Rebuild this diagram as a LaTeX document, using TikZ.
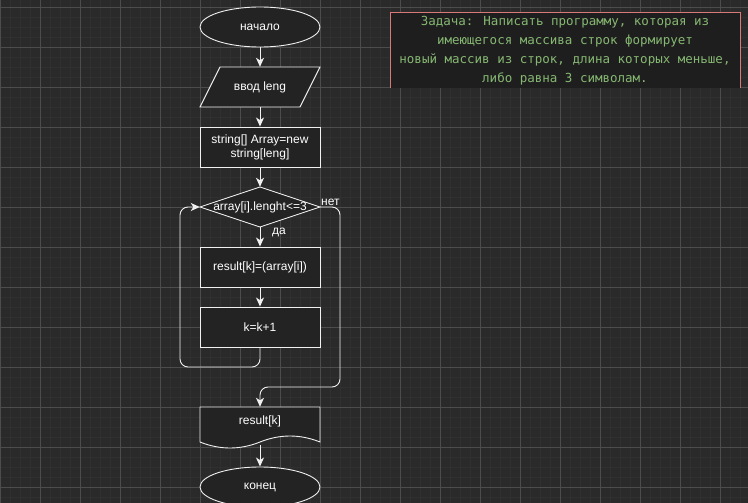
\documentclass[tikz,border=0pt]{standalone}
\usepackage{fontspec}
\setmainfont{Liberation Sans}
\newfontfamily\taskfont{DejaVu Sans Mono}
\usetikzlibrary{shapes.geometric,arrows.meta}
\definecolor{bgc}{HTML}{2A2A2A}
\definecolor{minorc}{HTML}{303030}
\definecolor{majorc}{HTML}{4C4C4C}
\definecolor{shapefill}{HTML}{232323}
\definecolor{linec}{HTML}{F0F0F0}
\definecolor{taskfill}{HTML}{1E1E1E}
\definecolor{taskedge}{HTML}{D87878}
\definecolor{taskText}{HTML}{86B872}
\tikzset{
  flow/.style={draw=linec, line width=0.9pt, fill=shapefill},
  txt/.style={text=white, font=\fontsize{12}{14}\selectfont, align=center, inner sep=0pt},
  arr/.style={draw=linec, line width=0.9pt, -{Stealth[length=9pt,width=8pt,inset=2.5pt]}},
  loopline/.style={arr, rounded corners=8pt},
  lbl/.style={text=white, font=\fontsize{12}{14}\selectfont, inner sep=0pt},
}
\begin{document}
\begin{tikzpicture}[x=1pt,y=-1pt]
\useasboundingbox (0,0) rectangle (748,503);
\clip (0,0) rectangle (748,503);
% background with grid
\fill[bgc] (0,0) rectangle (748,503);
\foreach \i in {0,10,...,750} \draw[minorc, line width=0.5pt] (\i,0) -- (\i,503);
\foreach \j in {-3,7,...,503} \draw[minorc, line width=0.5pt] (0,\j) -- (748,\j);
\foreach \i in {0,40,...,750} \draw[majorc, line width=0.7pt] (\i,0) -- (\i,503);
\foreach \j in {7,47,...,503} \draw[majorc, line width=0.7pt] (0,\j) -- (748,\j);

% start
\node[flow, ellipse, minimum width=120pt, minimum height=40pt, inner sep=0pt] (start) at (260,27) {};
\node[txt] at (start) {начало};

% input
\draw[flow] (220,67) -- (320,67) -- (300,107) -- (200,107) -- cycle;
\node[txt, minimum width=120pt, minimum height=40pt] (input) at (260,87) {ввод leng};

% array declaration
\node[flow, txt, minimum width=120pt, minimum height=40pt] (decl) at (260,147)
  {string[] Array=new\\string[leng]};

% condition
\draw[flow] (260,187) -- (320,207) -- (260,227) -- (200,207) -- cycle;
\node[txt, minimum width=120pt, minimum height=40pt] (cond) at (260,207) {array[i].lenght<=3};

% loop body
\node[flow, txt, minimum width=120pt, minimum height=40pt] (assign) at (260,267) {result[k]=(array[i])};
\node[flow, txt, minimum width=120pt, minimum height=40pt] (inc) at (260,327) {k=k+1};

% output document
\draw[flow] (200,407) -- (320,407) -- (320,442)
  .. controls (300,434) and (280,434) .. (260,442)
  .. controls (240,450) and (220,450) .. (200,442) -- cycle;
\node[txt, minimum width=120pt, minimum height=38pt] (doc) at (260,426) {};
\node[txt] at (260,421) {result[k]};

% end
\node[flow, ellipse, minimum width=120pt, minimum height=40pt, inner sep=0pt] (stop) at (260,487) {};
\node[txt] at (260,487) {конец};

% connectors
\draw[arr] (start) -- (input);
\draw[arr] (input) -- (decl);
\draw[arr] (decl) -- (cond);
\draw[arr] (cond) -- (assign);
\draw[arr] (assign) -- (inc);
\draw[arr] (doc.south) -- (stop);
\coordinate (loopA) at (260,367);
\coordinate (loopB) at (180,367);
\coordinate (loopC) at (180,207);
\draw[loopline] (inc.south) -- (loopA) -- (loopB) -- (loopC) -- (cond.west);
\coordinate (exitA) at (340,207);
\coordinate (exitB) at (340,387);
\coordinate (exitC) at (260,387);
\draw[loopline] (cond.east) -- (exitA) -- (exitB) -- (exitC) -- (doc.north);

\node[lbl, anchor=west] (no) at (321,202) {нет};
\node[lbl, anchor=west] (yes) at (272,232) {да};

% task statement
\fill[taskfill] (390,12) rectangle (740,88);
\draw[taskedge, line width=0.9pt] (390,88) -- (390,12) -- (740,12) -- (740,88);
\node[text=taskText, font=\taskfont\fontsize{12.5}{19}\selectfont, align=center, inner sep=0pt] (task) at (565,51)
  {Задача: Написать программу, которая из\\
   имеющегося массива строк формирует\\
   новый массив из строк, длина которых меньше,\\
   либо равна 3 символам.};
\end{tikzpicture}
\end{document}
